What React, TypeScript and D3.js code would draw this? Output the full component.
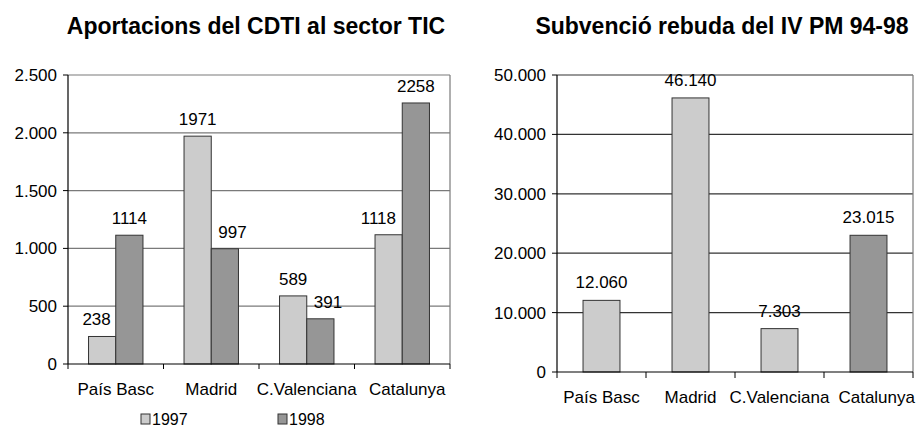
import React from 'react';
import * as d3 from 'd3';

// left chart: CDTI contributions
const regions = ['País Basc', 'Madrid', 'C.Valenciana', 'Catalunya'];
const years = ['1997', '1998'];
const values1997 = [238, 1971, 589, 1118];
const values1998 = [1114, 997, 391, 2258];
const leftTicks = [0, 500, 1000, 1500, 2000, 2500];

// right chart: IV PM subsidy
const subsidy = [12060, 46140, 7303, 23015];
const subsidyColors = ['#cccccc', '#cccccc', '#cccccc', '#969696'];
const rightTicks = [0, 10000, 20000, 30000, 40000, 50000];

const yearColors = ['#cccccc', '#969696'];

const W = 917;
const H = 428;
const FONT = '"Liberation Sans", Arial, sans-serif';
const FS = 17;

const loc = d3.formatLocale({ decimal: ',', thousands: '.', grouping: [3], currency: ['', '€'] });
const fmt = loc.format(',d');

// rough text width for Arial-like digits
const textW = (s: string) => s.length * 0.556 * FS;

const LeftChart = () => {
  const plot = { left: 68, right: 450, top: 75, bottom: 364 };
  const y = d3.scaleLinear().domain([0, 2500]).range([plot.bottom, plot.top]);
  const x0 = d3.scaleBand().domain(regions).range([plot.left, plot.right]);
  const bw = x0.bandwidth();
  const gw = bw * 0.57;
  const x1 = d3.scaleBand().domain(years).range([0, gw]);
  const series = [values1997, values1998];

  return (
    <g>
      <text x={256} y={34} textAnchor="middle" fontSize={23} fontWeight="bold" fontFamily={FONT}>
        Aportacions del CDTI al sector TIC
      </text>
      {leftTicks.map((t) => (
        <g key={t}>
          {t > 0 && (
            <line x1={plot.left} x2={plot.right} y1={y(t)} y2={y(t)} stroke="#7a7a7a" strokeWidth={1.2} />
          )}
          <line x1={plot.left - 5} x2={plot.left} y1={y(t)} y2={y(t)} stroke="#000" />
          <text x={plot.left - 11} y={y(t) + 6} textAnchor="end" fontSize={FS} fontFamily={FONT}>
            {fmt(t)}
          </text>
        </g>
      ))}
      <line x1={plot.right} x2={plot.right} y1={plot.top} y2={plot.bottom} stroke="#7a7a7a" strokeWidth={1.2} />
      {series.map((vals, si) =>
        regions.map((r, i) => {
          const bx = (x0(r) as number) + (bw - gw) / 2 + (x1(years[si]) as number);
          const w = x1.bandwidth();
          const by = y(vals[i]);
          const other = series[1 - si][i];
          const label = String(vals[i]);
          const lw = textW(label);
          let lx = bx + w / 2;
          // push label away from a taller neighbouring bar
          if (other > vals[i] && lw > w) {
            lx = si === 0 ? bx + w - lw / 2 - 5 : bx + lw / 2 + 7;
          }
          return (
            <g key={r + si}>
              <rect x={bx} y={by} width={w} height={plot.bottom - by}
                fill={yearColors[si]} stroke="#333" strokeWidth={1} />
              <text x={lx} y={by - 11} textAnchor="middle" fontSize={FS} fontFamily={FONT}>
                {label}
              </text>
            </g>
          );
        })
      )}
      <line x1={plot.left} x2={plot.left} y1={plot.top} y2={plot.bottom} stroke="#000" strokeWidth={1.2} />
      <line x1={plot.left} x2={plot.right} y1={plot.bottom} y2={plot.bottom} stroke="#000" strokeWidth={1.2} />
      {[...regions.map((r) => x0(r) as number), plot.right].map((tx, i) => (
        <line key={i} x1={tx} x2={tx} y1={plot.bottom} y2={plot.bottom + 5} stroke="#000" />
      ))}
      {regions.map((r, i) => (
        <text key={r} x={(x0(r) as number) + bw / 2 + (i === regions.length - 1 ? 5 : 0)} y={395}
          textAnchor="middle" fontSize={FS} fontFamily={FONT}>
          {r}
        </text>
      ))}
      {years.map((yr, i) => (
        <g key={yr} transform={`translate(${141 + i * 137},414)`}>
          <rect x={0} y={0} width={9} height={10} fill={yearColors[i]} stroke="#333" />
          <text x={11} y={11} fontSize={16} fontFamily={FONT}>{yr}</text>
        </g>
      ))}
    </g>
  );
};

const RightChart = () => {
  const plot = { left: 557, right: 913, top: 75, bottom: 372 };
  const y = d3.scaleLinear().domain([0, 50000]).range([plot.bottom, plot.top]);
  const x = d3.scaleBand().domain(regions).range([plot.left, plot.right]);
  const bw = x.bandwidth();
  const barW = bw * 0.415;

  return (
    <g>
      <text x={722} y={34} textAnchor="middle" fontSize={23} fontWeight="bold" fontFamily={FONT}>
        Subvenció rebuda del IV PM 94-98
      </text>
      {rightTicks.map((t) => (
        <g key={t}>
          {t > 0 && (
            <line x1={plot.left} x2={plot.right} y1={y(t)} y2={y(t)} stroke="#333" strokeWidth={1.2} />
          )}
          <line x1={plot.left - 5} x2={plot.left} y1={y(t)} y2={y(t)} stroke="#000" />
          <text x={plot.left - 11} y={y(t) + 6} textAnchor="end" fontSize={FS} fontFamily={FONT}>
            {fmt(t)}
          </text>
        </g>
      ))}
      <line x1={plot.right} x2={plot.right} y1={plot.top} y2={plot.bottom} stroke="#7a7a7a" strokeWidth={1.2} />
      {regions.map((r, i) => {
        const bx = (x(r) as number) + (bw - barW) / 2;
        const by = y(subsidy[i]);
        return (
          <g key={r}>
            <rect x={bx} y={by} width={barW} height={plot.bottom - by}
              fill={subsidyColors[i]} stroke="#333" strokeWidth={1} />
            <text x={bx + barW / 2} y={by - 12} textAnchor="middle" fontSize={FS} fontFamily={FONT}>
              {fmt(subsidy[i])}
            </text>
          </g>
        );
      })}
      <line x1={plot.left} x2={plot.left} y1={plot.top} y2={plot.bottom} stroke="#000" strokeWidth={1.2} />
      <line x1={plot.left} x2={plot.right} y1={plot.bottom} y2={plot.bottom} stroke="#000" strokeWidth={1.2} />
      {[...regions.map((r) => x(r) as number), plot.right].map((tx, i) => (
        <line key={i} x1={tx} x2={tx} y1={plot.bottom} y2={plot.bottom + 6} stroke="#000" />
      ))}
      {regions.map((r, i) => {
        const last = i === regions.length - 1;
        return (
          <text key={r} x={last ? W - 2 : (x(r) as number) + bw / 2} y={403}
            textAnchor={last ? 'end' : 'middle'} fontSize={FS} fontFamily={FONT}>
            {r}
          </text>
        );
      })}
    </g>
  );
};

export default function App() {
  return (
    <svg width={W} height={H} style={{ position: 'absolute', left: 0, top: 0, background: '#fff' }}>
      <rect width={W} height={H} fill="#fff" />
      <LeftChart />
      <RightChart />
    </svg>
  );
}
